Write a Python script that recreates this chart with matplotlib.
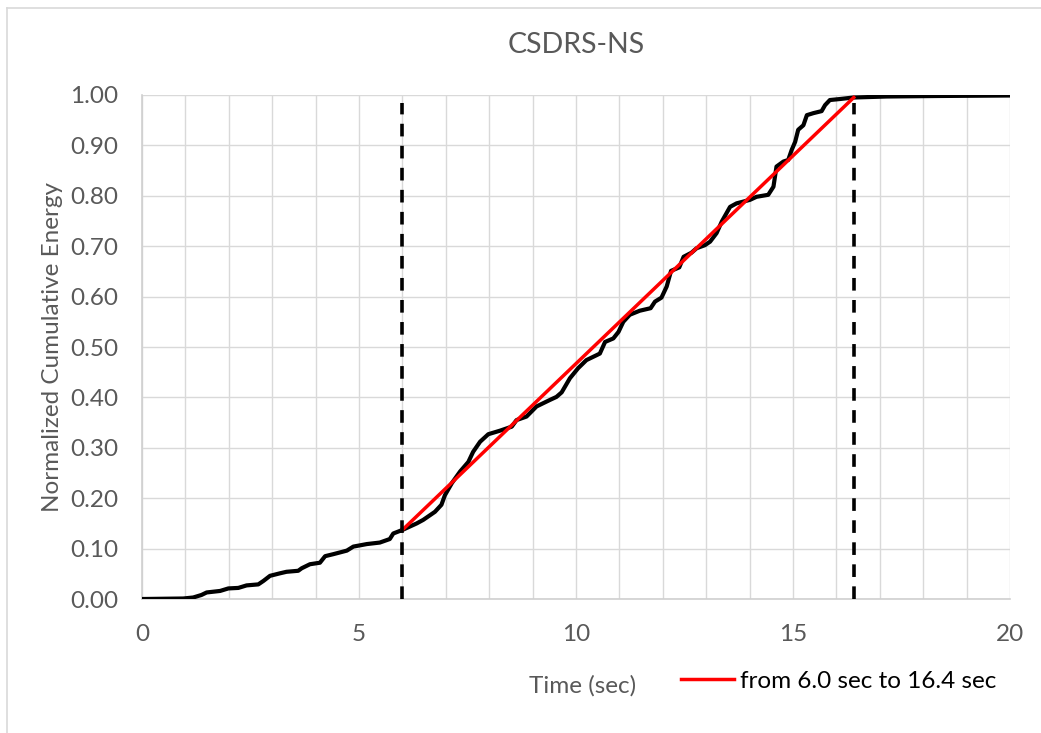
import numpy as np
import matplotlib.pyplot as plt
from matplotlib.lines import Line2D

plt.rcParams['font.family'] = ['Lato', 'DejaVu Sans']

# normalized cumulative energy (Husid curve), CSDRS-NS component
time = [0.0, 0.95, 1.18, 1.37, 1.49, 1.80, 1.99, 2.22, 2.41, 2.68, 2.80, 2.95,
        3.18, 3.33, 3.60, 3.68, 3.87, 4.10, 4.22, 4.41, 4.72, 4.87, 5.18, 5.48,
        5.71, 5.79, 6.00, 6.33, 6.48, 6.75, 6.90, 6.98, 7.14, 7.33, 7.52, 7.63,
        7.79, 7.98, 8.25, 8.52, 8.63, 8.86, 9.09, 9.40, 9.55, 9.67, 9.86, 10.05,
        10.24, 10.48, 10.55, 10.67, 10.86, 10.98, 11.09, 11.24, 11.47, 11.72,
        11.82, 11.97, 12.09, 12.19, 12.38, 12.48, 12.66, 12.78, 12.97, 13.09,
        13.24, 13.36, 13.55, 13.70, 14.01, 14.16, 14.43, 14.55, 14.62, 14.78,
        14.89, 14.97, 15.05, 15.12, 15.24, 15.32, 15.47, 15.66, 15.74, 15.85,
        16.08, 16.39, 17.16, 18.31, 20.0]
energy = [0.000, 0.001, 0.003, 0.008, 0.013, 0.016, 0.021, 0.022, 0.027, 0.029,
          0.036, 0.046, 0.051, 0.054, 0.056, 0.061, 0.069, 0.072, 0.085, 0.089,
          0.096, 0.104, 0.109, 0.112, 0.119, 0.130, 0.137, 0.150, 0.157, 0.173,
          0.187, 0.206, 0.230, 0.253, 0.272, 0.292, 0.312, 0.327, 0.334, 0.342,
          0.355, 0.362, 0.382, 0.395, 0.401, 0.410, 0.438, 0.458, 0.474, 0.484,
          0.487, 0.510, 0.517, 0.530, 0.550, 0.564, 0.572, 0.577, 0.590, 0.598,
          0.620, 0.651, 0.658, 0.679, 0.687, 0.696, 0.702, 0.709, 0.726, 0.749,
          0.778, 0.785, 0.792, 0.798, 0.802, 0.818, 0.858, 0.868, 0.871, 0.891,
          0.907, 0.931, 0.940, 0.960, 0.964, 0.968, 0.980, 0.990, 0.992, 0.995,
          0.997, 0.998, 0.999]

# significant duration window (fit line between its end points)
t_start, t_end = 6.0, 16.4
e_start, e_end = 0.137, 0.995

grey = '#595959'

fig = plt.figure(figsize=(10.41, 7.33), dpi=100)
ax = fig.add_axes([0.1364, 0.1828, 0.8338, 0.6876])

ax.plot(time, energy, color='black', lw=3.0, solid_joinstyle='round', zorder=3)
ax.plot([t_start, t_end], [e_start, e_end], color='red', lw=2.5, zorder=4,
        label=f'from {t_start:.1f} sec to {t_end:.1f} sec')
for t in (t_start, t_end):
    ax.plot([t, t], [0, 0.985], color='black', lw=2.6, ls=(0, (3.5, 2.6)), zorder=5)

ax.set_xlim(0, 20)
ax.set_ylim(0, 1.0)
ax.set_xticks([0, 5, 10, 15, 20])
ax.set_xticks(np.arange(0, 21, 1), minor=True)
ax.set_yticks(np.arange(0, 1.01, 0.1))
ax.set_yticklabels([f'{v:.2f}' for v in np.arange(0, 1.01, 0.1)])
ax.grid(True, which='both', axis='x', color='#d9d9d9', lw=1.0)
ax.grid(True, which='major', axis='y', color='#d9d9d9', lw=1.0)
ax.set_axisbelow(True)
ax.tick_params(which='both', length=0, labelsize=17.5, colors=grey)
ax.tick_params(axis='y', pad=17)
ax.tick_params(axis='x', pad=18)
for side in ('top', 'right'):
    ax.spines[side].set_visible(False)
for side in ('left', 'bottom'):
    ax.spines[side].set_color('#d0d0d0')
    ax.spines[side].set_linewidth(1.2)

ax.set_ylabel('Normalized Cumulative Energy', fontsize=17.5, color=grey, labelpad=5)
fig.text(0.5595, 1 - 686 / 733, 'Time (sec)', fontsize=17.5, color=grey,
         ha='center', va='center')
fig.text(0.5535, 1 - 45 / 733, 'CSDRS-NS', fontsize=20.5, color=grey,
         ha='center', va='center')

fig.legend(loc='center left', bbox_to_anchor=(0.654, 1 - 681 / 733), frameon=False,
           fontsize=17.5, handlelength=2.2, handletextpad=0.25, borderpad=0,
           borderaxespad=0)

# chart area border
fig.add_artist(Line2D([7 / 1041, 7 / 1041], [0, 1 - 8 / 733], color='#d9d9d9', lw=1.2))
fig.add_artist(Line2D([7 / 1041, 1], [1 - 8 / 733, 1 - 8 / 733], color='#d9d9d9', lw=1.2))

fig.savefig('out.png', dpi=100)
